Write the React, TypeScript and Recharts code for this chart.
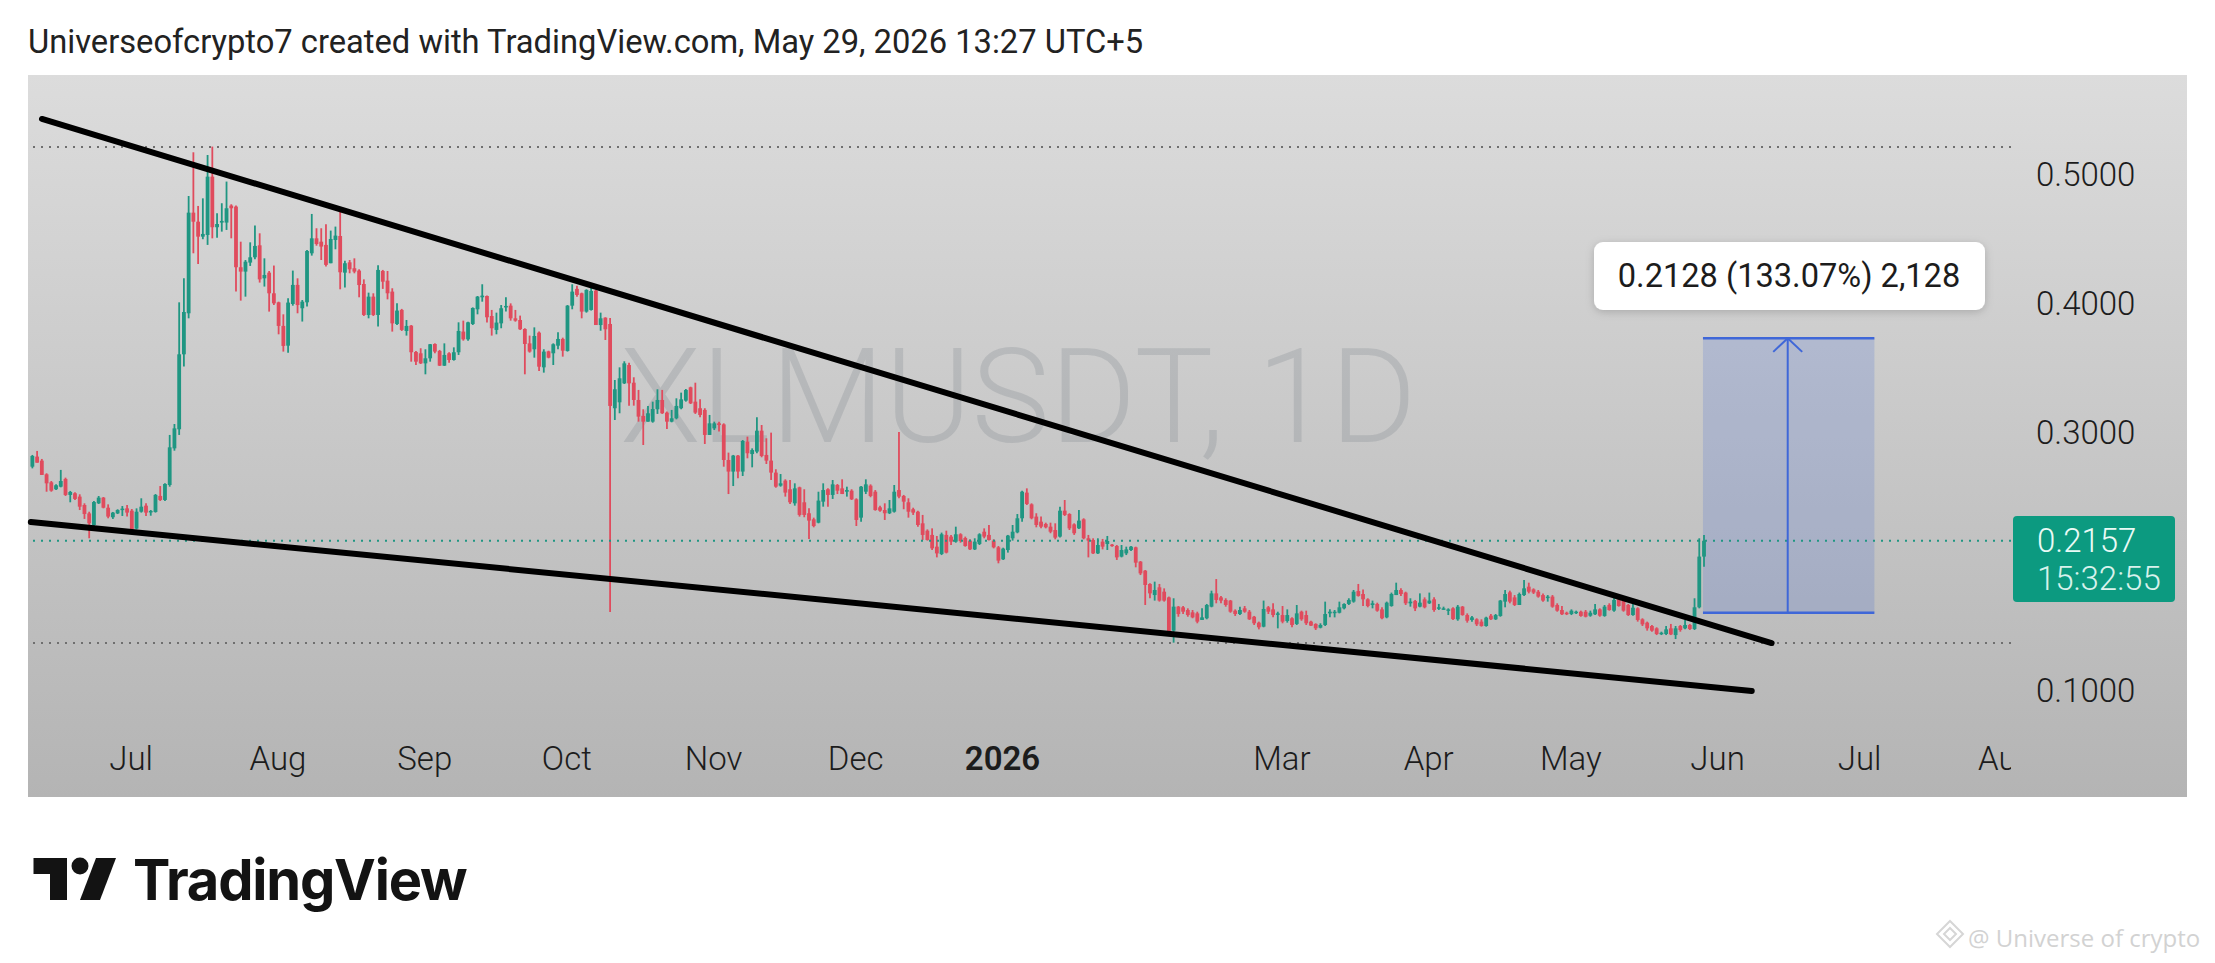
import React from 'react';
import { ComposedChart, Bar, XAxis, YAxis, ReferenceLine, ReferenceArea } from 'recharts';

// Each row: direction, high, top of body, bottom of body, low
type Row = ['u' | 'd', number, number, number, number];

const jun2025: Row[] = [
['u',.2822,.2814,.2731,.2718],['d',.2853,.2809,.2762,.2762],['d',.2791,.2778,.2667,.2667],['d',.2680,.2672,.2602,.2537],['d',.2620,.2610,.2545,.2537],['u',.2594,.2587,.2556,.2550],['u',.2706,.2620,.2576,.2571],['d',.2646,.2636,.2512,.2504],['u',.2543,.2535,.2512,.2455],['d',.2532,.2525,.2481,.2473],['d',.2517,.2499,.2421,.2395],['d',.2447,.2434,.2364,.2326],['d',.2382,.2369,.2292,.2176],['u',.2465,.2457,.2279,.2261],['u',.2504,.2491,.2447,.2442],['d',.2496,.2491,.2413,.2408],['d',.2439,.2413,.2344,.2331],['u',.2380,.2375,.2339,.2326],['u',.2401,.2395,.2369,.2364],['u',.2426,.2406,.2395,.2349],['d',.2434,.2408,.2375,.2344],
];
const jul2025: Row[] = [
['d',.2403,.2390,.2245,.2235],['u',.2408,.2382,.2251,.2245],['u',.2486,.2421,.2382,.2375],['d',.2447,.2429,.2375,.2349],['u',.2395,.2388,.2377,.2351],['u',.2519,.2512,.2380,.2375],['d',.2581,.2504,.2473,.2465],['u',.2602,.2597,.2473,.2465],['u',.2977,.2881,.2589,.2576],['u',.3062,.3028,.2873,.2855],['u',.4005,.3602,.3021,.2977],['u',.4191,.3930,.3602,.3507],['u',.4829,.4700,.3920,.3881],['d',.5168,.4700,.4630,.4385],['d',.4752,.4630,.4514,.4302],['u',.4811,.4535,.4514,.4494],['u',.5147,.4979,.4527,.4450],['d',.5212,.4979,.4587,.4501],['u',.4695,.4612,.4587,.4506],['u',.4773,.4636,.4623,.4553],['u',.4941,.4734,.4623,.4566],['d',.4765,.4755,.4734,.4501],['d',.4755,.4747,.4277,.4088],['d',.4475,.4277,.4243,.4018],['u',.4333,.4320,.4243,.4049],['u',.4470,.4354,.4313,.4287],['u',.4600,.4442,.4354,.4339],['d',.4540,.4447,.4183,.4158],['u',.4346,.4217,.4191,.4127],['d',.4248,.4235,.4075,.3933],['d',.4290,.4075,.3997,.3984],
];
const aug2025: Row[] = [
['d',.4010,.4005,.3822,.3757],['d',.3912,.3822,.3667,.3623],['u',.4036,.4003,.3669,.3615],['u',.4251,.4140,.3992,.3979],['d',.4191,.4140,.3984,.3920],['u',.4023,.4010,.3959,.3856],['u',.4411,.4403,.4005,.3972],['u',.4690,.4501,.4385,.4367],['d',.4579,.4501,.4457,.4444],['d',.4579,.4475,.4437,.4333],['d',.4610,.4450,.4295,.4282],['u',.4561,.4496,.4308,.4308],['u',.4592,.4522,.4488,.4416],['d',.4721,.4519,.4238,.4106],['u',.4328,.4308,.4235,.4119],['d',.4333,.4315,.4261,.4230],['d',.4346,.4269,.4243,.4230],['d',.4261,.4251,.4139,.4044],['d',.4183,.4147,.3907,.3899],['u',.4080,.4049,.3907,.3881],['d',.4075,.4049,.3907,.3899],['u',.4292,.4256,.3907,.3817],['d',.4256,.4248,.4165,.4109],['d',.4248,.4173,.4075,.4028],['d',.4114,.4088,.3842,.3778],['u',.3997,.3941,.3837,.3829],['d',.3954,.3946,.3791,.3783],['u',.3868,.3822,.3783,.3747],['d',.3829,.3824,.3618,.3545],['d',.3628,.3620,.3545,.3519],['d',.3649,.3610,.3532,.3527],
];
const sep2025: Row[] = [
['u',.3641,.3571,.3532,.3447],['u',.3682,.3680,.3571,.3545],['d',.3687,.3682,.3623,.3610],['d',.3636,.3628,.3514,.3512],['u',.3687,.3597,.3514,.3512],['d',.3618,.3610,.3558,.3537],['u',.3656,.3618,.3558,.3553],['u',.3850,.3783,.3618,.3597],['d',.3863,.3778,.3718,.3708],['u',.3855,.3850,.3718,.3708],['u',.3966,.3961,.3837,.3829],['u',.4054,.4049,.3951,.3912],['u',.4145,.4057,.4044,.4010],['d',.4057,.4054,.3889,.3848],['d',.3946,.3899,.3804,.3747],['u',.3925,.3848,.3791,.3757],['u',.3984,.3959,.3842,.3804],['u',.4044,.3977,.3966,.3933],['d',.3997,.3979,.3881,.3863],['d',.3946,.3881,.3863,.3855],['d',.3902,.3868,.3796,.3791],['d',.3804,.3798,.3682,.3447],['d',.3747,.3687,.3623,.3615],['u',.3811,.3744,.3641,.3576],['d',.3778,.3770,.3506,.3473],['u',.3641,.3623,.3501,.3460],['d',.3630,.3625,.3576,.3571],['u',.3687,.3680,.3610,.3519],['u',.3773,.3721,.3669,.3641],['d',.3731,.3721,.3630,.3584],
];
const oct2025: Row[] = [
['u',.3984,.3979,.3628,.3623],['u',.4145,.4088,.3979,.3951],['d',.4134,.4109,.4062,.4049],['d',.4080,.4075,.3933,.3881],['u',.4106,.4101,.3933,.3925],['u',.4127,.4093,.3946,.3941],['d',.4101,.4096,.3829,.3829],['u',.3925,.3881,.3829,.3785],['d',.3889,.3886,.3796,.3713],['d',.3884,.3837,.3202,.1605],['u',.3403,.3331,.3184,.3093],['u',.3501,.3416,.3230,.3145],['u',.3548,.3532,.3377,.3372],['d',.3537,.3519,.3377,.3204],['d',.3424,.3382,.3248,.3204],['d',.3326,.3248,.3119,.3080],['d',.3176,.3124,.3080,.2899],['u',.3202,.3145,.3080,.3080],['u',.3235,.3178,.3080,.3072],['u',.3331,.3248,.3176,.3140],['d',.3326,.3248,.3145,.3140],['d',.3158,.3150,.3080,.3023],['u',.3171,.3106,.3080,.3075],['u',.3261,.3202,.3106,.3098],['u',.3305,.3253,.3184,.3176],['u',.3333,.3326,.3243,.3235],['d',.3351,.3346,.3222,.3217],['d',.3382,.3235,.3150,.3140],['d',.3253,.3184,.3132,.3114],['d',.3184,.3171,.2977,.2907],['u',.3132,.3067,.2977,.2977],
];
const nov2025: Row[] = [
['u',.3080,.3067,.3028,.3015],['d',.3080,.3067,.3054,.3003],['d',.3067,.3059,.2783,.2731],['d',.2840,.2783,.2693,.2519],['u',.2822,.2817,.2693,.2581],['d',.2822,.2817,.2693,.2641],['u',.2938,.2930,.2693,.2659],['d',.2964,.2925,.2835,.2796],['u',.2873,.2860,.2829,.2726],['u',.3114,.3010,.2848,.2835],['d',.3054,.3010,.2814,.2804],['d',.2951,.2822,.2778,.2752],['d',.2995,.2778,.2685,.2628],['d',.2711,.2685,.2576,.2568],['u',.2674,.2602,.2584,.2576],['d',.2633,.2623,.2530,.2499],['d',.2628,.2556,.2455,.2442],['u',.2602,.2563,.2447,.2429],['d',.2576,.2571,.2357,.2344],['d',.2556,.2455,.2357,.2339],['d',.2408,.2370,.2313,.2171],['d',.2336,.2323,.2271,.2261],['u',.2537,.2468,.2297,.2292],['u',.2602,.2550,.2460,.2421],['d',.2563,.2556,.2512,.2421],['u',.2628,.2594,.2512,.2481],['d',.2597,.2589,.2545,.2519],['d',.2633,.2563,.2519,.2519],['u',.2576,.2550,.2537,.2499],['d',.2556,.2545,.2478,.2473],
];
const dec2025: Row[] = [
['d',.2486,.2478,.2318,.2271],['u',.2581,.2576,.2336,.2305],['u',.2633,.2594,.2537,.2519],['d',.2594,.2584,.2504,.2494],['d',.2550,.2537,.2395,.2390],['d',.2429,.2416,.2390,.2382],['d',.2447,.2395,.2370,.2318],['u',.2473,.2408,.2370,.2364],['u',.2589,.2537,.2382,.2375],['d',.3000,.2550,.2499,.2486],['d',.2512,.2504,.2460,.2401],['d',.2486,.2455,.2382,.2336],['d',.2413,.2401,.2375,.2357],['d',.2390,.2382,.2279,.2266],['d',.2357,.2292,.2202,.2163],['d',.2245,.2235,.2163,.2158],['d',.2253,.2202,.2098,.2085],['d',.2194,.2111,.2059,.2028],['u',.2220,.2207,.2054,.2046],['d',.2235,.2202,.2065,.2059],['d',.2202,.2189,.2150,.2124],['u',.2266,.2207,.2150,.2142],['d',.2215,.2207,.2155,.2142],['d',.2189,.2178,.2116,.2111],['d',.2168,.2158,.2090,.2085],['u',.2176,.2150,.2090,.2085],['u',.2215,.2207,.2132,.2124],['d',.2253,.2227,.2189,.2176],['d',.2279,.2202,.2163,.2158],['d',.2168,.2158,.2106,.2098],['d',.2116,.2106,.2003,.1982],
];
const jan2026: Row[] = [
['u',.2103,.2096,.2013,.2008],['u',.2202,.2197,.2085,.2065],['u',.2279,.2227,.2176,.2158],['u',.2364,.2331,.2222,.2215],['u',.2545,.2537,.2331,.2305],['d',.2563,.2530,.2442,.2434],['d',.2447,.2439,.2331,.2323],['d',.2370,.2344,.2279,.2261],['d',.2344,.2305,.2266,.2253],['d',.2297,.2287,.2261,.2253],['d',.2297,.2266,.2227,.2215],['d',.2292,.2240,.2181,.2168],['u',.2421,.2390,.2189,.2183],['d',.2473,.2390,.2357,.2349],['d',.2370,.2364,.2253,.2240],['d',.2292,.2284,.2215,.2202],['u',.2395,.2313,.2253,.2248],['d',.2331,.2323,.2176,.2168],['d',.2202,.2176,.2158,.2028],['d',.2176,.2163,.2059,.2054],['u',.2176,.2124,.2059,.2054],['d',.2171,.2150,.2111,.2090],['u',.2194,.2155,.2132,.2085],['d',.2132,.2127,.2116,.2111],['d',.2124,.2116,.2028,.2008],['u',.2124,.2085,.2034,.2028],['u',.2111,.2090,.2059,.2046],['u',.2116,.2111,.2085,.2078],['d',.2111,.2106,.1987,.1951],['d',.2000,.1995,.1904,.1891],['d',.1930,.1925,.1814,.1659],
];
const feb2026: Row[] = [
['d',.1827,.1822,.1749,.1711],['u',.1840,.1775,.1736,.1693],['d',.1822,.1796,.1693,.1685],['d',.1788,.1762,.1693,.1685],['d',.1724,.1718,.1452,.1434],['u',.1711,.1646,.1460,.1367],['d',.1651,.1646,.1589,.1568],['d',.1651,.1641,.1607,.1589],['d',.1633,.1620,.1581,.1568],['d',.1620,.1602,.1563,.1556],['d',.1607,.1594,.1530,.1517],['u',.1633,.1563,.1543,.1543],['u',.1667,.1659,.1556,.1548],['u',.1770,.1749,.1646,.1641],['d',.1860,.1749,.1698,.1672],['d',.1729,.1718,.1693,.1672],['d',.1711,.1698,.1659,.1646],['d',.1698,.1693,.1607,.1599],['d',.1625,.1615,.1589,.1574],['u',.1646,.1620,.1589,.1581],['d',.1651,.1633,.1607,.1599],['d',.1620,.1607,.1548,.1543],['d',.1574,.1568,.1517,.1504],['d',.1530,.1522,.1486,.1470],['u',.1693,.1628,.1491,.1486],['d',.1651,.1641,.1607,.1589],['d',.1672,.1625,.1581,.1563],['u',.1607,.1594,.1589,.1478],
];
const mar2026: Row[] = [
['d',.1651,.1581,.1530,.1517],['u',.1625,.1581,.1535,.1522],['d',.1563,.1556,.1504,.1486],['u',.1659,.1594,.1512,.1504],['d',.1615,.1607,.1548,.1537],['d',.1615,.1581,.1517,.1504],['d',.1537,.1530,.1499,.1496],['d',.1517,.1512,.1478,.1465],['u',.1517,.1504,.1483,.1478],['u',.1685,.1589,.1504,.1496],['u',.1625,.1607,.1594,.1563],['u',.1620,.1607,.1599,.1563],['u',.1685,.1641,.1599,.1594],['u',.1672,.1667,.1633,.1625],['u',.1711,.1698,.1667,.1659],['u',.1775,.1762,.1685,.1677],['d',.1822,.1767,.1729,.1724],['d',.1780,.1744,.1703,.1651],['d',.1711,.1703,.1651,.1641],['u',.1693,.1672,.1659,.1633],['d',.1677,.1667,.1615,.1607],['d',.1641,.1625,.1556,.1548],['u',.1685,.1677,.1563,.1556],['u',.1755,.1744,.1651,.1646],['u',.1832,.1775,.1736,.1736],['d',.1788,.1775,.1744,.1729],['d',.1762,.1755,.1672,.1659],['u',.1711,.1685,.1672,.1646],['d',.1698,.1690,.1633,.1612],['u',.1749,.1677,.1646,.1641],['d',.1718,.1703,.1641,.1633],
];
const apr2026: Row[] = [
['u',.1755,.1693,.1672,.1667],['d',.1718,.1703,.1620,.1607],['u',.1667,.1641,.1630,.1620],['u',.1646,.1633,.1628,.1620],['u',.1633,.1625,.1620,.1581],['d',.1641,.1633,.1550,.1543],['u',.1659,.1646,.1548,.1537],['d',.1651,.1646,.1581,.1576],['d',.1594,.1581,.1537,.1522],['u',.1574,.1563,.1543,.1530],['d',.1556,.1548,.1509,.1496],['d',.1548,.1530,.1496,.1491],['u',.1568,.1561,.1496,.1491],['d',.1589,.1576,.1548,.1543],['u',.1589,.1581,.1548,.1543],['u',.1698,.1693,.1574,.1568],['u',.1775,.1744,.1685,.1641],['d',.1770,.1757,.1685,.1672],['d',.1736,.1718,.1659,.1651],['u',.1755,.1744,.1659,.1659],['u',.1853,.1788,.1736,.1729],['d',.1832,.1801,.1762,.1749],['d',.1788,.1780,.1755,.1744],['d',.1775,.1762,.1724,.1716],['d',.1749,.1736,.1693,.1685],['u',.1736,.1724,.1716,.1685],['d',.1736,.1724,.1646,.1638],['d',.1672,.1659,.1615,.1607],['d',.1651,.1620,.1587,.1581],['d',.1607,.1599,.1587,.1581],
];
const may2026: Row[] = [
['u',.1625,.1615,.1589,.1581],['u',.1615,.1607,.1599,.1589],['d',.1615,.1607,.1574,.1568],['d',.1620,.1607,.1568,.1563],['u',.1615,.1599,.1576,.1568],['u',.1667,.1625,.1587,.1581],['d',.1633,.1625,.1576,.1568],['u',.1659,.1646,.1574,.1568],['d',.1672,.1659,.1620,.1615],['u',.1736,.1698,.1615,.1607],['d',.1711,.1703,.1651,.1646],['d',.1698,.1690,.1615,.1607],['d',.1667,.1659,.1581,.1574],['u',.1690,.1638,.1581,.1576],['d',.1641,.1633,.1543,.1530],['d',.1556,.1548,.1509,.1496],['d',.1530,.1522,.1478,.1460],['d',.1504,.1496,.1460,.1452],['d',.1486,.1478,.1434,.1426],['u',.1452,.1444,.1434,.1426],['u',.1496,.1470,.1434,.1426],['d',.1512,.1478,.1431,.1426],['u',.1496,.1478,.1426,.1395],['d',.1504,.1496,.1465,.1452],['u',.1543,.1504,.1478,.1470],['d',.1512,.1504,.1473,.1465],['u',.1711,.1641,.1473,.1465],['u',.2176,.2034,.1641,.1633],['u',.2202,.2157,.2034,.1956],
];

const months: Row[][] = [jun2025, jul2025, aug2025, sep2025, oct2025, nov2025, dec2025, jan2026, feb2026, mar2026, apr2026, may2026];
const firstDay = -21; // days relative to 1 Jul 2025

const tickDays = [0, 31, 62, 92, 123, 153, 184, 243, 274, 304, 335, 365, 396];
const tickNames = ['Jul', 'Aug', 'Sep', 'Oct', 'Nov', 'Dec', '2026', 'Mar', 'Apr', 'May', 'Jun', 'Jul', 'Aug'];
const priceTicks = [0.1, 0.3, 0.4, 0.5];

const upperTrend = [{ x: -19.05, y: 0.5426 }, { x: 346.2, y: 0.1364 }];
const lowerTrend = [{ x: -21.4, y: 0.2302 }, { x: 342, y: 0.0992 }];
const highLine = 0.5209;
const lastLine = 0.2157;
const lowLine = 0.1364;
const rangeDays = [331.7, 367.9];
const rangeMid = 349.6;
const rangeArrowHalf = 3.06;
const rangeLow = 0.1599;
const rangeHigh = 0.3727;
const rangeArrowBase = 0.3621;

const table = months.flat().map((r, i) => ({
  day: firstDay + i,
  dir: r[0],
  range: [r[4], r[1]],
  high: r[1],
  top: r[2],
  bottom: r[3],
  low: r[4],
}));

const GREEN = '#1f9682';
const RED = '#e04b5d';
const BLUE = '#3f67d8';
const UI = 'Roboto, sans-serif';

function Candle(props: any) {
  const { x, y, width, height, payload } = props;
  const color = payload.dir === 'u' ? GREEN : RED;
  const span = payload.high - payload.low || 1e-6;
  const perUnit = height / span;
  const bodyY = y + (payload.high - payload.top) * perUnit;
  const bodyH = Math.max((payload.top - payload.bottom) * perUnit, 1.5);
  const cx = x + width / 2;
  return (
    <g>
      <line x1={cx} x2={cx} y1={y} y2={y + height} stroke={color} strokeWidth={1.8} />
      <rect x={cx - 1.9} y={bodyY} width={3.8} height={bodyH} fill={color} />
    </g>
  );
}

function DateTick(props: any) {
  const { x, y, payload, index } = props;
  const name = tickNames[index];
  const isYear = name === '2026';
  const id = `clip-tick-${index}`;
  return (
    <g>
      <defs>
        <clipPath id={id}>
          <rect x={0} y={700} width={2011} height={100} />
        </clipPath>
      </defs>
      <text
        x={x - 1}
        y={y + 32}
        textAnchor="middle"
        clipPath={`url(#${id})`}
        fontFamily={UI}
        fontSize={33}
        fontWeight={isYear ? 600 : 300}
        fill="#1c1c1c"
      >
        {name}
      </text>
    </g>
  );
}

export default function App() {
  return (
    <div style={{ position: 'absolute', left: 0, top: 0, width: 2215, height: 963, overflow: 'hidden', background: '#fff' }}>
      <svg width={2215} height={963} style={{ position: 'absolute', left: 0, top: 0 }}>
        <defs>
          <linearGradient id="panel" x1="0" y1="0" x2="0" y2="1">
            <stop offset="0" stopColor="#dcdcdc" />
            <stop offset="1" stopColor="#b4b4b4" />
          </linearGradient>
        </defs>
        <text x={28} y={53} fontFamily={UI} fontSize={32.7} fill="#222">
          Universeofcrypto7 created with TradingView.com, May 29, 2026 13:27 UTC+5
        </text>
        <rect x={28} y={75} width={2159} height={722} fill="url(#panel)" />
        <text x={620} y={442} fontFamily={UI} fontSize={132} fontWeight={300} fill="#82878f" fillOpacity={0.28}>
          XLMUSDT, 1D
        </text>
        <path d="M33.5 858H67V900H50V874H33.5Z" fill="#131313" />
        <circle cx={80} cy={866} r={8.5} fill="#131313" />
        <path d="M96 858H116L100 900H80Z" fill="#131313" />
        <text x={133} y={900} fontFamily="Inter, sans-serif" fontSize={56} fontWeight={700} letterSpacing={-1.2} fill="#131313">
          TradingView
        </text>
        <g fill="none" stroke="#d6d6d6" strokeWidth={2}>
          <path d="M1950 921L1963 934L1950 947L1937 934Z" />
          <path d="M1950 928L1956 934L1950 940L1944 934Z" />
        </g>
        <text x={1968} y={947} fontFamily="'Open Sans', sans-serif" fontSize={24} fill="#d2d2d2">
          @ Universe of crypto
        </text>
      </svg>

      <ComposedChart
        width={2215}
        height={963}
        data={table}
        margin={{ top: 75, right: 0, bottom: 166, left: 28 }}
        style={{ position: 'absolute', left: 0, top: 0 }}
      >
        <XAxis
          type="number"
          dataKey="day"
          scale="linear"
          domain={[-22, 396.75]}
          ticks={tickDays}
          interval={0}
          tick={<DateTick />}
          tickLine={false}
          axisLine={false}
          height={67}
        />
        <YAxis
          orientation="right"
          type="number"
          domain={[0.069, 0.5767]}
          ticks={priceTicks}
          interval={0}
          width={204}
          tickLine={false}
          axisLine={false}
          tickMargin={19}
          tickFormatter={(v: number) => v.toFixed(4)}
          tick={{ fontFamily: UI, fontSize: 33, fontWeight: 300, fill: '#1c1c1c' }}
        />
        <ReferenceLine y={highLine} stroke="#6f6f6f" strokeWidth={2} strokeDasharray="2 6" />
        <ReferenceLine y={lastLine} stroke={GREEN} strokeWidth={2} strokeDasharray="2 6" />
        <ReferenceLine y={lowLine} stroke="#6f6f6f" strokeWidth={2} strokeDasharray="2 6" />
        <ReferenceArea x1={rangeDays[0]} x2={rangeDays[1]} y1={rangeLow} y2={rangeHigh} fill="#3f67d8" fillOpacity={0.2} stroke="none" />
        <Bar dataKey="range" barSize={4} shape={<Candle />} isAnimationActive={false} />
        <ReferenceLine segment={[{ x: rangeDays[0], y: rangeHigh }, { x: rangeDays[1], y: rangeHigh }]} stroke={BLUE} strokeWidth={2.5} />
        <ReferenceLine segment={[{ x: rangeDays[0], y: rangeLow }, { x: rangeDays[1], y: rangeLow }]} stroke={BLUE} strokeWidth={2.5} />
        <ReferenceLine segment={[{ x: rangeMid, y: rangeLow }, { x: rangeMid, y: rangeHigh }]} stroke={BLUE} strokeWidth={2} />
        <ReferenceLine segment={[{ x: rangeMid - rangeArrowHalf, y: rangeArrowBase }, { x: rangeMid, y: rangeHigh }]} stroke={BLUE} strokeWidth={2} />
        <ReferenceLine segment={[{ x: rangeMid + rangeArrowHalf, y: rangeArrowBase }, { x: rangeMid, y: rangeHigh }]} stroke={BLUE} strokeWidth={2} />
        <ReferenceLine segment={upperTrend} stroke="#000" strokeWidth={6} strokeLinecap="round" />
        <ReferenceLine segment={lowerTrend} stroke="#000" strokeWidth={6} strokeLinecap="round" />
      </ComposedChart>

      <svg width={2215} height={963} style={{ position: 'absolute', left: 0, top: 0, pointerEvents: 'none' }}>
        <defs>
          <filter id="soft" x="-10%" y="-30%" width="120%" height="160%">
            <feDropShadow dx="0" dy="2" stdDeviation="4" floodColor="#000" floodOpacity="0.18" />
          </filter>
        </defs>
        <rect x={1594} y={242} width={391} height={68} rx={9} fill="#fff" filter="url(#soft)" />
        <text x={1789} y={287} textAnchor="middle" fontFamily={UI} fontSize={32.6} fill="#1c1c1c">
          0.2128 (133.07%) 2,128
        </text>
        <rect x={2013} y={516} width={162} height={86} rx={4} fill="#0c9a80" />
        <text x={2037} y={552} fontFamily={UI} fontSize={33} fontWeight={300} fill="#eafaf6">0.2157</text>
        <text x={2037} y={590} fontFamily={UI} fontSize={33} fontWeight={300} fill="#d8f2ec">15:32:55</text>
      </svg>
    </div>
  );
}
